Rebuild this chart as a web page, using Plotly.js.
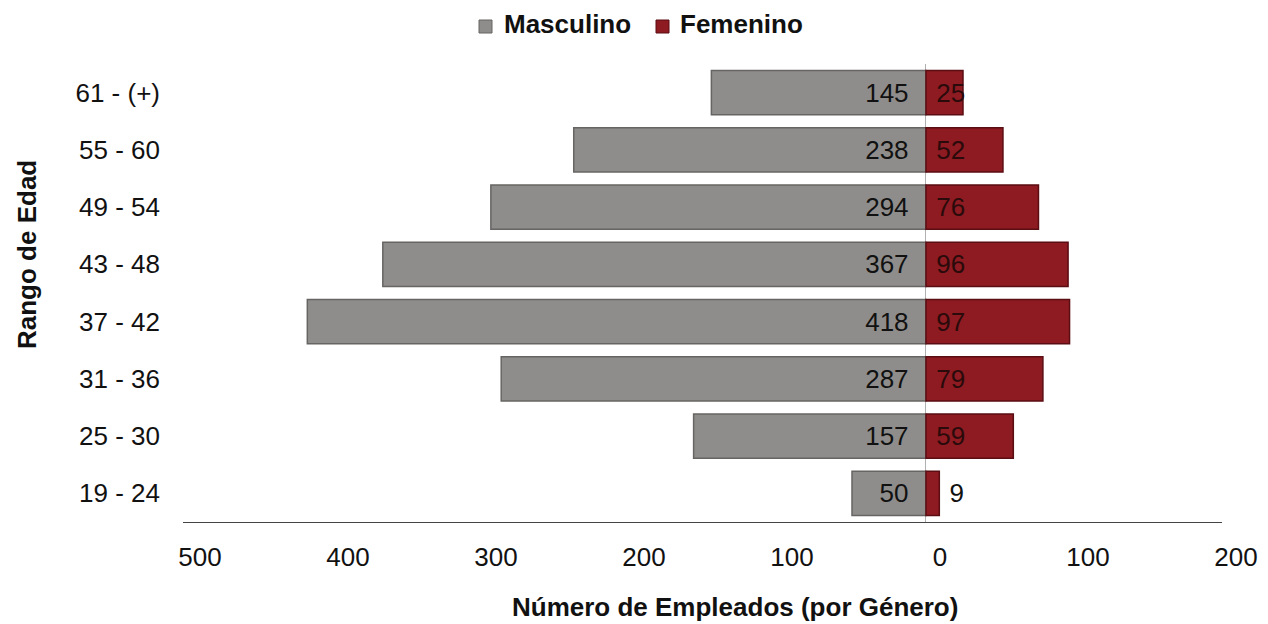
<!DOCTYPE html>
<html>
<head>
<meta charset="utf-8">
<script src="https://cdn.plot.ly/plotly-3.0.1.min.js"></script>
<style>html,body{margin:0;padding:0;background:#fff;}#chart{width:1268px;height:624px;}</style>
</head>
<body>
<div id="chart"></div>
<script>
const categories = ["19 - 24", "25 - 30", "31 - 36", "37 - 42", "43 - 48", "49 - 54", "55 - 60", "61 - (+)"];
const masculino = [50, 157, 287, 418, 367, 294, 238, 145];
const femenino = [9, 59, 79, 97, 96, 76, 52, 25];
const tickValues = [-500, -400, -300, -200, -100, 0, 100, 200];
const tickLabels = ["500", "400", "300", "200", "100", "0", "100", "200"];
const seriesNames = ["Masculino", "Femenino"];
const seriesColors = ["#8f8d8b", "#8e1b22"];
const seriesLines = ["#676563", "#5a0d12"];

const FONT = "Liberation Sans, Arial, sans-serif";
const W = 1268, H = 624;
const M = {l: 183, r: 46, t: 64, b: 102};
const PW = W - M.l - M.r, PH = H - M.t - M.b;
const px2x = p => (p - M.l) / PW;
const px2y = p => (H - M.b - p) / PH;

const traceM = {
  type: "bar", orientation: "h", name: seriesNames[0],
  y: categories,
  x: masculino.map(v => -v),
  text: masculino.map(String),
  texttemplate: "%{text}\u00a0\u00a0",
  textposition: "inside", insidetextanchor: "start", textangle: 0,
  constraintext: "none",
  textfont: {family: FONT, size: 26, color: "#111"},
  marker: {color: seriesColors[0], line: {color: seriesLines[0], width: 1.5}},
  hoverinfo: "y+text"
};
const traceF = {
  type: "bar", orientation: "h", name: seriesNames[1],
  y: categories,
  x: femenino,
  text: femenino.map(String),
  texttemplate: "\u00a0%{text}",
  textposition: femenino.map((v, i) => i === 0 ? "outside" : "inside"),
  insidetextanchor: "start", textangle: 0,
  constraintext: "none", cliponaxis: false,
  textfont: {family: FONT, size: 26, color: "#111"},
  insidetextfont: {family: FONT, size: 26, color: "#2a0a0a"},
  outsidetextfont: {family: FONT, size: 26, color: "#111"},
  marker: {color: seriesColors[1], line: {color: seriesLines[1], width: 1.5}},
  hoverinfo: "y+text"
};

// custom legend (matches original spacing)
const legendItems = [
  {sq: [479, 492], tx: 502},
  {sq: [656, 669], tx: 678}
];
const shapes = [];
const annotations = [];
legendItems.forEach((it, i) => {
  shapes.push({
    type: "rect", xref: "paper", yref: "paper",
    x0: px2x(it.sq[0]), x1: px2x(it.sq[1]),
    y0: px2y(33), y1: px2y(20),
    fillcolor: seriesColors[i], line: {color: seriesLines[i], width: 1}
  });
  annotations.push({
    text: "<b>" + seriesNames[i] + "</b>", xref: "paper", yref: "paper",
    x: px2x(it.tx), y: px2y(24), xanchor: "left", yanchor: "middle",
    showarrow: false, font: {family: FONT, size: 26, color: "#111"}
  });
});
annotations.push({
  text: "<b>Número de Empleados (por Género)</b>", xref: "paper", yref: "paper",
  x: px2x(735), y: px2y(607), xanchor: "center", yanchor: "middle",
  showarrow: false, font: {family: FONT, size: 26, color: "#111"}
});
annotations.push({
  text: "<b>Rango de Edad</b>", xref: "paper", yref: "paper", textangle: -90,
  x: px2x(27), y: px2y(255), xanchor: "center", yanchor: "middle",
  showarrow: false, font: {family: FONT, size: 26, color: "#111"}
});

const layout = {
  width: W, height: H,
  paper_bgcolor: "#fff", plot_bgcolor: "#fff",
  margin: M,
  barmode: "relative",
  bargap: 0.23,
  font: {family: FONT, size: 26, color: "#111"},
  showlegend: false,
  shapes: shapes,
  annotations: annotations,
  xaxis: {
    range: [-502, 200],
    tickvals: tickValues, ticktext: tickLabels,
    showgrid: false,
    zeroline: true, zerolinecolor: "#b0b0b0", zerolinewidth: 1,
    showline: true, linecolor: "#444", linewidth: 1.2,
    ticks: "", ticklabelstandoff: 12, ticklabelshift: 14,
    tickfont: {family: FONT, size: 26, color: "#111"},
    automargin: false, fixedrange: true
  },
  yaxis: {
    type: "category",
    categoryorder: "array", categoryarray: categories,
    showgrid: false, zeroline: false, showline: false,
    ticks: "", ticklabelstandoff: 22,
    tickfont: {family: FONT, size: 26, color: "#111"},
    automargin: false, fixedrange: true
  }
};

Plotly.newPlot("chart", [traceM, traceF], layout, {displayModeBar: false, staticPlot: true});
</script>
</body>
</html>
